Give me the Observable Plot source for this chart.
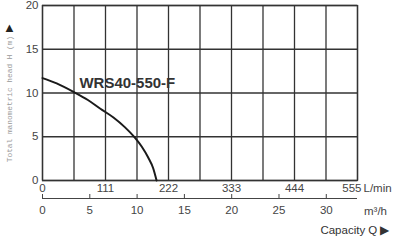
<!DOCTYPE html>
<html>
<head>
<meta charset="utf-8">
<script src="https://cdn.jsdelivr.net/npm/d3@7"></script>
<script src="https://cdn.jsdelivr.net/npm/@observablehq/plot@0.6"></script>
<style>
  html, body { margin: 0; padding: 0; background: #fff; }
  svg { display: block; }
</style>
</head>
<body>
<div id="chart"></div>
<script>
// Pump curve (L/min, head in m)
const flowLmin = [0, 25, 55.5, 80, 102, 125, 145, 162, 175, 186, 195, 201];
const headM    = [11.7, 11.1, 10.1, 9.2, 8.2, 7.2, 6.1, 4.95, 3.85, 2.65, 1.4, 0];

const gridLmin  = [0, 55.5, 111, 166.5, 222, 277.5, 333, 388.5, 444, 499.5, 555];
const tickLmin  = [0, 111, 222, 333, 444];
const lastLmin  = [555];
const tickM3h   = [0, 5, 10, 15, 20, 25, 30];
const tickHead  = [0, 5, 10, 15, 20];

const modelName = "WRS40-550-F";
const modelLabelAt = {flow: 65, head: 10.6};

const yTitle = "Total manometric head H (m)";
const lminUnit = "L/min";
const m3hUnit = "m³/h";
const capacityTitle = "Capacity Q ▶";

const curve = flowLmin.map((f, i) => ({flow: f, head: headM[i]}));
const m3hToLmin = v => v * 1000 / 60;

const font = "Liberation Sans, Arial, sans-serif";
const grid = "#333";

const chart = Plot.plot({
  width: 400,
  height: 241,
  marginLeft: 42,
  marginRight: 43,
  marginTop: 5,
  marginBottom: 61,
  style: {fontFamily: font, fontSize: "11px", color: "#444", background: "#fff"},
  x: {domain: [0, 555]},
  y: {domain: [0, 20]},
  marks: [
    Plot.gridX(gridLmin, {stroke: grid, strokeOpacity: 1, strokeWidth: 1.3}),
    Plot.gridY(tickHead, {stroke: grid, strokeOpacity: 1, strokeWidth: 1.3}),
    Plot.frame({stroke: grid, strokeWidth: 1.3}),
    Plot.axisY(tickHead, {tickSize: 0, tickPadding: 4, fontSize: 11.5, fill: "#444", label: null}),
    Plot.axisX(tickLmin, {anchor: "bottom", tickSize: 0, tickPadding: 3, fontSize: 11.5, fill: "#444", label: null}),
    Plot.text(lastLmin, {x: d => d, text: d => String(d), frameAnchor: "bottom", dx: 4, dy: 8,
      textAnchor: "end", lineAnchor: "middle", fontSize: 11.5, fill: "#444"}),
    Plot.text([lminUnit], {frameAnchor: "bottom-right", dx: 6, dy: 8, textAnchor: "start", lineAnchor: "middle", fontSize: 11.5, fill: "#444"}),
    // secondary m3/h axis
    Plot.ruleY([0], {dy: 18, stroke: "#444", strokeWidth: 1}),
    Plot.axisX(tickM3h.map(m3hToLmin), {anchor: "bottom", dy: 14, tickSize: 4, tickPadding: 7,
      tickFormat: d => String(Math.round(d * 60 / 1000)), fontSize: 11.5, fill: "#444", stroke: "#444", label: null}),
    Plot.text([m3hUnit], {frameAnchor: "bottom-right", dx: 18, dy: 31, textAnchor: "middle", lineAnchor: "middle", fontSize: 11.5, fill: "#444"}),
    Plot.text([capacityTitle], {frameAnchor: "bottom-right", dx: 32, dy: 50, textAnchor: "end", lineAnchor: "middle", fontSize: 11.5, fill: "#333"}),
    // y title
    Plot.text([yTitle], {frameAnchor: "left", dx: -33, dy: 6, rotate: -90, textAnchor: "middle", lineAnchor: "middle",
      fontSize: 7.8, fontFamily: "Liberation Mono, DejaVu Sans Mono, monospace", fill: "#999"}),
    Plot.text(["▲"], {frameAnchor: "top-left", dx: -33, dy: 22, textAnchor: "middle", lineAnchor: "middle", fontSize: 13, fill: "#222"}),
    // curve
    Plot.line(curve, {x: "flow", y: "head", curve: "monotone-x", stroke: "#1a1a1a", strokeWidth: 2}),
    Plot.text([modelName], {x: () => modelLabelAt.flow, y: () => modelLabelAt.head, textAnchor: "start",
      lineAnchor: "bottom", fontSize: 15, fontWeight: "bold", fill: "#333"})
  ]
});
document.getElementById("chart").appendChild(chart);
</script>
</body>
</html>
